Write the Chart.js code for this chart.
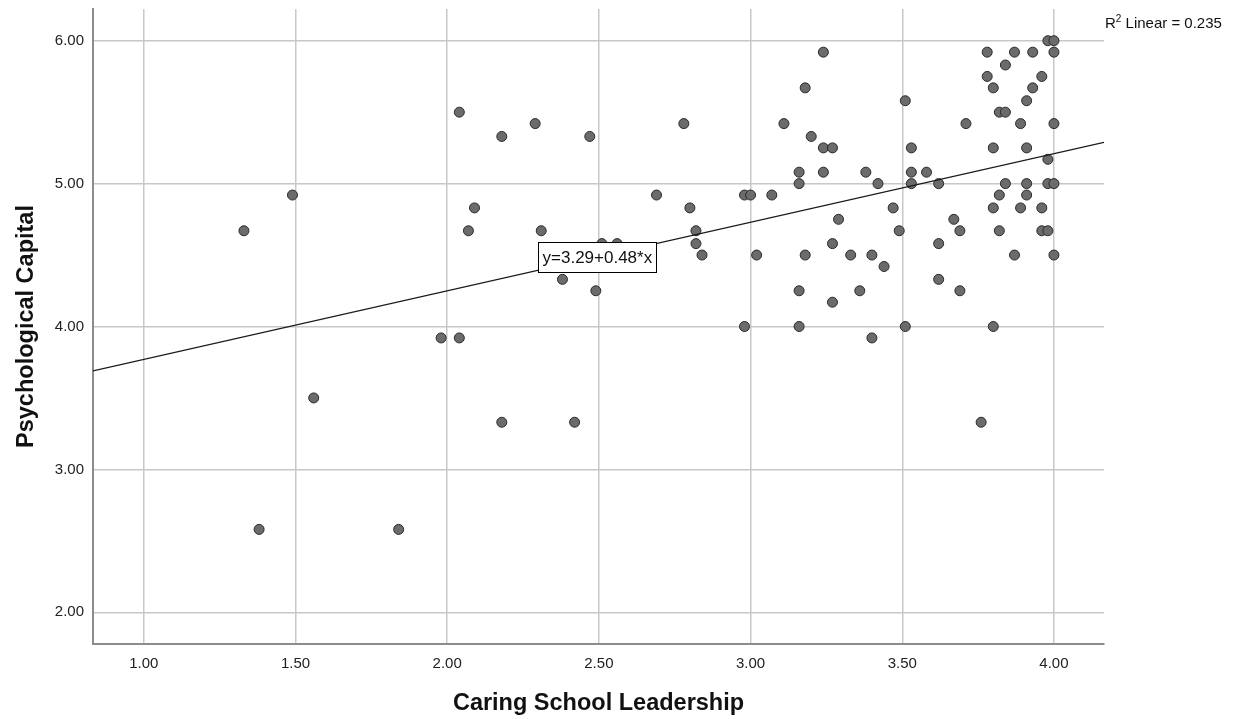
<!DOCTYPE html>
<html>
<head>
<meta charset="utf-8">
<script src="https://cdn.jsdelivr.net/npm/chart.js@4.4.1/dist/chart.umd.min.js"></script>
<style>
  body { margin: 0; background: #fff; overflow: hidden; }
  #wrap { width: 1235px; height: 719px; position: relative; }
</style>
</head>
<body>
<div id="wrap"><canvas id="scatter-chart"></canvas></div>
<script>
// Caring School Leadership (x) vs Psychological Capital (y)
const leadership = [
  1.33, 1.38, 1.49, 1.56, 1.84, 1.98, 2.04, 2.18, 2.04, 2.18,
  2.09, 2.07, 2.29, 2.47, 2.78, 3.11, 3.18, 3.20, 3.16, 3.16,
  2.69, 2.98, 3.00, 3.07, 2.80, 2.82, 2.82, 2.84, 3.02, 3.18,
  2.31, 2.51, 2.56, 2.38, 2.49, 3.16, 2.98, 3.16, 2.42, 3.24,
  3.24, 3.27, 3.24, 3.38, 3.42, 3.51, 3.53, 3.53, 3.58, 3.53,
  3.62, 3.71, 3.78, 3.87, 3.93, 3.98, 4.00, 4.00, 3.84, 3.78,
  3.96, 3.80, 3.93, 3.91, 3.82, 3.84, 3.89, 4.00, 3.80, 3.91,
  3.98, 3.84, 3.91, 3.98, 4.00, 3.82, 3.91, 3.80, 3.89, 3.96,
  3.82, 3.96, 3.98, 3.87, 4.00, 3.47, 3.29, 3.49, 3.67, 3.69,
  3.27, 3.62, 3.33, 3.40, 3.44, 3.36, 3.62, 3.69, 3.27, 3.51,
  3.80, 3.40, 3.76
];
const psyCapital = [
  4.67, 2.58, 4.92, 3.50, 2.58, 3.92, 3.92, 3.33, 5.50, 5.33,
  4.83, 4.67, 5.42, 5.33, 5.42, 5.42, 5.67, 5.33, 5.08, 5.00,
  4.92, 4.92, 4.92, 4.92, 4.83, 4.67, 4.58, 4.50, 4.50, 4.50,
  4.67, 4.58, 4.58, 4.33, 4.25, 4.25, 4.00, 4.00, 3.33, 5.92,
  5.25, 5.25, 5.08, 5.08, 5.00, 5.58, 5.25, 5.08, 5.08, 5.00,
  5.00, 5.42, 5.92, 5.92, 5.92, 6.00, 6.00, 5.92, 5.83, 5.75,
  5.75, 5.67, 5.67, 5.58, 5.50, 5.50, 5.42, 5.42, 5.25, 5.25,
  5.17, 5.00, 5.00, 5.00, 5.00, 4.92, 4.92, 4.83, 4.83, 4.83,
  4.67, 4.67, 4.67, 4.50, 4.50, 4.83, 4.75, 4.67, 4.75, 4.67,
  4.58, 4.58, 4.50, 4.50, 4.42, 4.25, 4.33, 4.25, 4.17, 4.00,
  4.00, 3.92, 3.33
];

const xTicks = [1.0, 1.5, 2.0, 2.5, 3.0, 3.5, 4.0];
const yTicks = [2.0, 3.0, 4.0, 5.0, 6.0];
const xRange = [0.8325, 4.165];
const yRange = [1.778, 6.222];

// linear fit reported by SPSS
const fitIntercept = 3.29;
const fitSlope = 0.48;
const fitLabelX = 2.495;
const rSquared = "0.235";

const points = leadership.map((x, i) => ({ x: x, y: psyCapital[i] }));
const fitLine = xRange.map(x => ({ x: x, y: fitIntercept + fitSlope * x }));

const FONT = "'Liberation Sans', Arial, sans-serif";

const annotations = {
  id: "annotations",
  afterDatasetsDraw(chart) {
    const ctx = chart.ctx;
    const xs = chart.scales.x, ys = chart.scales.y;
    // equation box sitting on the fit line
    const px = xs.getPixelForValue(fitLabelX);
    const py = ys.getPixelForValue(fitIntercept + fitSlope * fitLabelX);
    const txt = "y=" + fitIntercept.toFixed(2) + "+" + fitSlope.toFixed(2) + "*x";
    ctx.save();
    ctx.font = "17px " + FONT;
    const w = Math.round(ctx.measureText(txt).width + 8);
    const h = 30;
    const bx = Math.round(px - w / 2) + 0.5, by = Math.round(py - h / 2) + 0.5;
    ctx.fillStyle = "#fff";
    ctx.fillRect(bx, by, w, h);
    ctx.strokeStyle = "#000";
    ctx.lineWidth = 1;
    ctx.strokeRect(bx, by, w, h);
    ctx.fillStyle = "#111";
    ctx.textAlign = "center";
    ctx.textBaseline = "middle";
    ctx.fillText(txt, px, py + 1);

    // R squared note, top right
    let rx = chart.chartArea.right + 1;
    const ry = 28;
    ctx.textAlign = "left";
    ctx.textBaseline = "alphabetic";
    ctx.font = "15px " + FONT;
    ctx.fillText("R", rx, ry);
    rx += ctx.measureText("R").width;
    ctx.font = "10px " + FONT;
    ctx.fillText("2", rx, ry - 6);
    rx += ctx.measureText("2").width;
    ctx.font = "15px " + FONT;
    ctx.fillText(" Linear = " + rSquared, rx, ry);
    ctx.restore();
  }
};

new Chart("scatter-chart", {
  type: "scatter",
  data: {
    datasets: [
      {
        type: "line",
        data: fitLine,
        borderColor: "#1a1a1a",
        borderWidth: 1.3,
        pointRadius: 0,
        fill: false,
        order: 0
      },
      {
        data: points,
        backgroundColor: "#6b6b6b",
        borderColor: "#2a2a2a",
        borderWidth: 1,
        pointRadius: 5,
        order: 1
      }
    ]
  },
  options: {
    responsive: true,
    maintainAspectRatio: false,
    animation: false,
    layout: { padding: { left: 0, right: 131, top: 9, bottom: 0 } },
    plugins: {
      legend: { display: false },
      tooltip: { enabled: false }
    },
    scales: {
      x: {
        type: "linear",
        min: xRange[0],
        max: xRange[1],
        afterBuildTicks: s => { s.ticks = xTicks.map(v => ({ value: v })); },
        afterFit: s => { s.height = 75; s.paddingLeft = 0; s.paddingRight = 0; },
        grid: { color: "#c8c8c8", lineWidth: 1.5, drawTicks: false },
        border: { display: true, color: "#8c8c8c", width: 2 },
        ticks: {
          padding: 11,
          color: "#222",
          font: { family: FONT, size: 15 },
          callback: v => v.toFixed(2)
        },
        title: {
          display: true,
          text: "Caring School Leadership",
          color: "#111",
          font: { family: FONT, size: 23.5, weight: "bold" },
          padding: { top: 0, bottom: 1 }
        }
      },
      y: {
        type: "linear",
        min: yRange[0],
        max: yRange[1],
        afterBuildTicks: s => { s.ticks = yTicks.map(v => ({ value: v })); },
        afterFit: s => { s.width = 93; s.paddingTop = 0; s.paddingBottom = 0; },
        grid: { color: "#c8c8c8", lineWidth: 1.5, drawTicks: false },
        border: { display: true, color: "#8c8c8c", width: 2 },
        ticks: {
          padding: 9,
          color: "#222",
          font: { family: FONT, size: 15 },
          callback: v => v.toFixed(2)
        },
        title: {
          display: true,
          text: "Psychological Capital",
          color: "#111",
          font: { family: FONT, size: 23.5, weight: "bold" },
          padding: { top: 12, bottom: 0 }
        }
      }
    }
  },
  plugins: [annotations]
});
</script>
</body>
</html>
